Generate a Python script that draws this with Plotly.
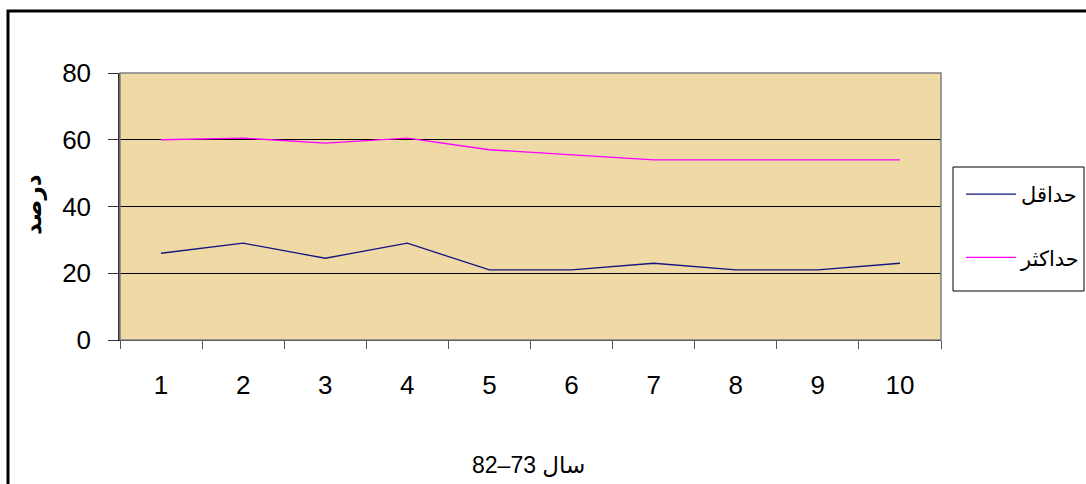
import plotly.graph_objects as go

categories = ["1", "2", "3", "4", "5", "6", "7", "8", "9", "10"]
min_values = [26, 29, 24.5, 29, 21, 21, 23, 21, 21, 23]
max_values = [60, 60.5, 59, 60.5, 57, 55.5, 54, 54, 54, 54]
series_names = ["حداقل", "حداکثر"]
x_title = "سال 73–82"
y_title = "درصد"

W, H = 1086, 484
L, R, T, B = 120, 941, 73, 340
pw, ph = R - L, B - T

def px_x(x):
    return (x - L) / pw

def px_y(y):
    return (B - y) / ph

fig = go.Figure()
fig.add_trace(go.Scatter(x=categories, y=min_values, mode="lines", name=series_names[0],
                         line=dict(color="#141480", width=1.3), legendgroup="a"))
fig.add_trace(go.Scatter(x=categories, y=max_values, mode="lines", name=series_names[1],
                         line=dict(color="#ff00ff", width=1.3), legendgroup="b"))

fig.update_layout(
    width=W, height=H,
    margin=dict(l=L, r=W - R, t=T, b=H - B, autoexpand=False),
    paper_bgcolor="white",
    plot_bgcolor="#efdaa6",
    font=dict(family="Liberation Sans, Arial, sans-serif", color="black"),
    showlegend=True,
    legend=dict(
        x=px_x(961), y=px_y(174), xanchor="left", yanchor="top",
        borderwidth=0, bgcolor="rgba(0,0,0,0)",
        font=dict(size=21, family="Liberation Serif, DejaVu Sans, serif"),
        tracegroupgap=33, itemwidth=50,
    ),
    xaxis=dict(
        type="category", range=[-0.5, 9.5], tickson="boundaries",
        ticks="outside", ticklen=8, tickcolor="#555555", tickwidth=1,
        showline=True, linecolor="black", linewidth=1,
        showgrid=False, tickfont=dict(size=26), ticklabelstandoff=22,
        zeroline=False,
    ),
    yaxis=dict(
        range=[0, 80], dtick=20, ticks="outside", ticklen=10, tickcolor="#333333",
        showline=True, linecolor="#333333", linewidth=1.5,
        showgrid=True, gridcolor="black", gridwidth=1,
        tickfont=dict(size=26), ticklabelstandoff=12, zeroline=False,
    ),
    shapes=[
        dict(type="rect", xref="paper", yref="paper", x0=0, x1=1, y0=0, y1=1,
             line=dict(color="#808080", width=1.5), layer="above"),
        dict(type="rect", xref="paper", yref="paper",
             x0=px_x(8), x1=px_x(W + 20), y0=px_y(11), y1=px_y(H + 20),
             line=dict(color="black", width=3), fillcolor="rgba(0,0,0,0)"),
        dict(type="rect", xref="paper", yref="paper",
             x0=px_x(953), x1=px_x(1084), y0=px_y(167), y1=px_y(291),
             line=dict(color="black", width=1), fillcolor="white", layer="below"),
    ],
    annotations=[
        dict(text=x_title, xref="paper", yref="paper", x=px_x(528), y=px_y(465),
             xanchor="center", yanchor="middle", showarrow=False,
             font=dict(size=23, family="Liberation Sans, DejaVu Sans, sans-serif")),
        dict(text="<b>" + y_title + "</b>", xref="paper", yref="paper", x=px_x(33), y=px_y(205),
             xanchor="center", yanchor="middle", showarrow=False, textangle=-90,
             font=dict(size=23, family="DejaVu Sans, sans-serif")),
    ],
)

fig.write_html("out.html")
